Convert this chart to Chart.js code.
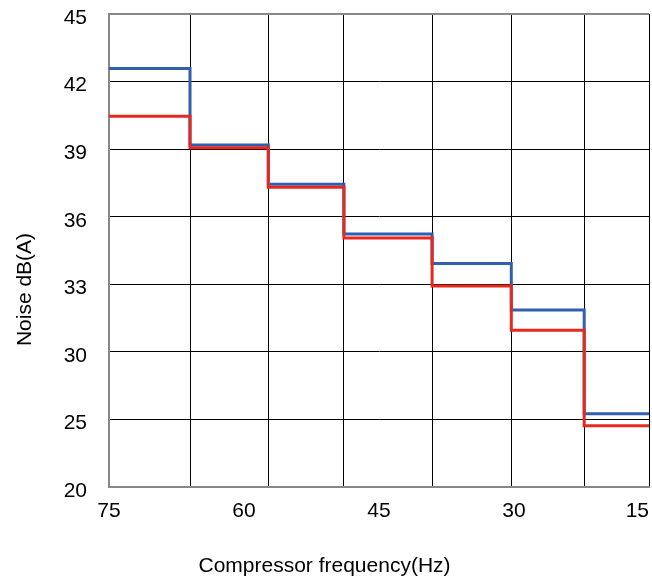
<!DOCTYPE html>
<html><head><meta charset="utf-8">
<script src="https://cdn.jsdelivr.net/npm/chart.js@4"></script>
<style>html,body{margin:0;padding:0;background:#fff}#wrap{width:652px;height:579px}</style>
</head><body><div id="wrap"><canvas id="c" width="652" height="579"></canvas></div>
<script>
// Compressor frequency step boundaries (Hz), left to right
const freqBounds = [75, 66, 57.3, 48.9, 39.1, 30.3, 22.2, 15];
// Noise level on each frequency step, dB(A)
const noiseBlue = [42.58, 39.18, 37.44, 35.23, 33.92, 31.86, 25.42];
const noiseRed  = [40.46, 39.06, 37.31, 35.06, 32.92, 30.96, 24.54];
// Tick labels
const xTickLabels = ['15', '30', '45', '60', '75'];
const yTickLabels = ['20', '25', '30', '33', '36', '39', '42', '45'];

const yVals = yTickLabels.map(Number);
// The noise axis is spaced evenly per tick label (non-linear in dB): map dB to tick position
function toIdx(v) {
  for (let i = 0; i < yVals.length - 1; i++) {
    if (v <= yVals[i + 1] || i === yVals.length - 2) {
      return i + (v - yVals[i]) / (yVals[i + 1] - yVals[i]);
    }
  }
  return 0;
}
function stepPoints(vals) {
  return freqBounds.map((f, i) => ({ x: f, y: toIdx(vals[Math.min(i, vals.length - 1)]) }));
}

const FONT = { family: '"Liberation Sans", Arial, Helvetica, sans-serif', size: 21, weight: 'normal' };
const X_MAX = Math.max(...freqBounds), X_MIN = Math.min(...freqBounds);

new Chart(document.getElementById('c'), {
  type: 'line',
  data: {
    datasets: [
      { label: 'blue', data: stepPoints(noiseBlue), borderColor: '#2f5fae', borderWidth: 3,
        stepped: 'before', pointRadius: 0, fill: false, order: 1, borderJoinStyle: 'miter' },
      { label: 'red', data: stepPoints(noiseRed), borderColor: '#e8281e', borderWidth: 3,
        stepped: 'before', pointRadius: 0, fill: false, order: 0, borderJoinStyle: 'miter' }
    ]
  },
  options: {
    responsive: false,
    animation: false,
    layout: { padding: { right: 3 } },
    plugins: {
      legend: { display: false },
      tooltip: { enabled: false },
      title: { display: true, text: 'Noise dB(A)', position: 'left', color: '#000',
        font: FONT, padding: { top: 12.4, bottom: 0 } },
      subtitle: { display: true, text: 'Compressor frequency(Hz)', position: 'bottom', color: '#000',
        font: FONT, padding: { top: 30.8, bottom: 0 } }
    },
    scales: {
      x: {
        type: 'linear', reverse: true, min: X_MIN, max: X_MAX,
        afterBuildTicks: s => {
          s.ticks = [
            ...xTickLabels.map(t => ({ value: Number(t), lab: true })),
            ...freqBounds.map(v => ({ value: v }))
          ];
        },
        ticks: {
          autoSkip: false, maxRotation: 0, minRotation: 0, align: 'inner', padding: 12,
          color: '#000', font: FONT,
          callback: (v, i, t) => (t[i] && t[i].lab) ? String(v) : ''
        },
        grid: {
          drawTicks: false, lineWidth: 1,
          color: c => (c.tick && !c.tick.lab && c.tick.value !== X_MAX) ? '#000' : 'rgba(0,0,0,0)'
        },
        border: { color: '#888', width: 2 },
        afterFit: s => { s.height = 36; s.paddingLeft = 0; s.paddingRight = 0; }
      },
      y: {
        type: 'linear', min: 0, max: yTickLabels.length - 1,
        afterBuildTicks: s => { s.ticks = yTickLabels.map((t, i) => ({ value: i })); },
        ticks: {
          padding: 22, labelOffset: 4, color: '#000', font: FONT,
          callback: v => yTickLabels[v]
        },
        grid: {
          drawTicks: false,
          color: c => c.index === yTickLabels.length - 1 ? '#888' : '#000',
          lineWidth: c => c.index === yTickLabels.length - 1 ? 2 : 1
        },
        border: { color: '#888', width: 2 },
        afterFit: s => { s.width = 109 - 37.6; s.paddingTop = 14; s.paddingBottom = 0; }
      }
    }
  }
});
</script>
</body></html>
